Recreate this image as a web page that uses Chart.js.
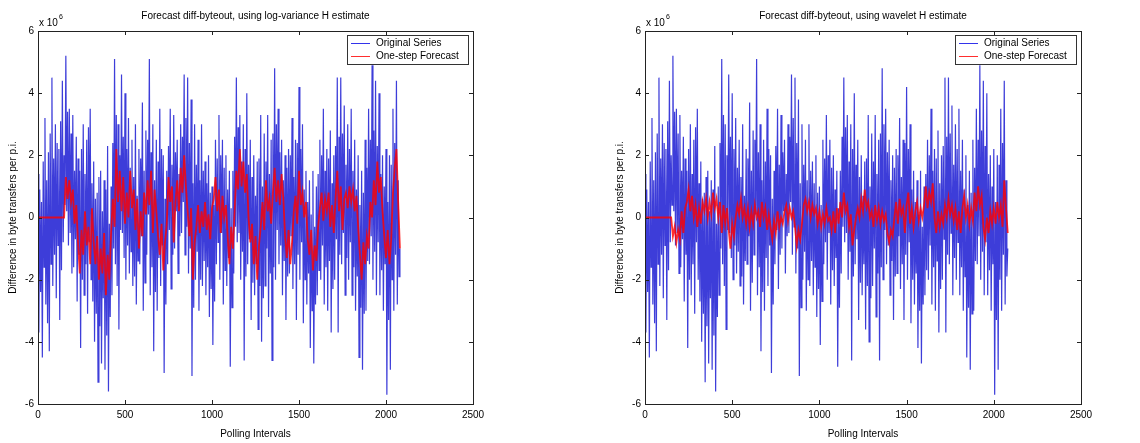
<!DOCTYPE html>
<html>
<head>
<meta charset="utf-8">
<script src="https://cdn.jsdelivr.net/npm/chart.js@4.4.1/dist/chart.umd.min.js"></script>
<style>
  html, body { margin: 0; padding: 0; background: #fff; }
  #wrap { position: relative; width: 1140px; height: 443px; }
  .pane { position: absolute; top: 0; width: 570px; height: 443px; }
  #p1 { left: 0; }
  #p2 { left: 570px; }
</style>
</head>
<body>
<div id="wrap">
  <div class="pane" id="p1"><canvas id="c1" width="570" height="443"></canvas></div>
  <div class="pane" id="p2"><canvas id="c2" width="570" height="443"></canvas></div>
</div>
<script>
// ---- data (values in units of 10^6) ----
const ORIGINAL_STEP = 5;    // polling intervals between original-series readings
const FORECAST_STEP = 10;   // polling intervals between forecast readings
const xTicks = [0, 500, 1000, 1500, 2000, 2500];
const yTicks = [-6, -4, -2, 0, 2, 4, 6];
const titles = ["Forecast diff-byteout, using log-variance H estimate",
                "Forecast diff-byteout, using wavelet H estimate"];
const seriesNames = ["Original Series", "One-step Forecast"];
const xTitle = "Polling Intervals";
const yTitle = "Difference in byte transfers per p.i.";

const originalSeries = [
  1.4, -3.7, 0.9, -2.4,   0.5, -4.5, 1.8, -1.6,   3.2, -2.8, 1.2, -3.4,   2.1, -4.3, 2.7, -1.5,
  4.5, -2.2, 1.9, -1.2,   3.0, -2.6, 2.4, -0.9,   2.2, -3.3, 3.1, -1.7,   4.4, -0.8, 2.0, 0.4,
  5.2, 0.2, 3.4, -0.9,    3.5, -0.5, 2.7, -1.8,   3.3, -1.6, 1.5, -0.7,   2.6, -2.7, 1.9, -1.2,
  1.5, -4.2, 2.2, -2.0,   3.0, -2.5, 1.4, -1.5,   2.5, -3.1, 2.9, -0.8,   3.5, -2.0, 1.1, -2.7,
  1.8, -4.0, 0.6, -3.1,   0.8, -5.3, 1.3, -3.5,   1.5, -4.7, 0.2, -2.6,   1.2, -4.9, 0.9, -3.8,
  2.3, -5.6, -0.2, -3.2,  1.0, -2.5, 2.4, -1.0,   5.1, -1.5, 3.3, -2.2,   3.0, -3.6, 2.0, -0.4,
  4.6, -0.5, 2.6, -1.3,   4.0, -2.0, 2.2, -0.9,   3.2, -1.8, 1.6, -1.1,   2.5, -2.2, 1.3, -1.9,
  3.0, -2.8, 0.7, -1.4,   2.2, -1.5, 1.9, -0.6,   3.7, -3.0, 1.5, -2.1,   2.8, -1.2, 2.5, 0.1,
  5.1, -2.5, 2.1, -1.6,   3.0, -4.3, 1.2, -2.4,   2.5, -3.0, 1.8, -1.3,   3.5, -2.2, 2.2, -0.9,
  2.0, -5.0, 0.6, -2.8,   1.5, -1.5, 2.3, -0.4,   3.5, -2.3, 1.7, -1.2,   3.3, -1.0, 2.1, 0.2,
  2.5, -1.8, 1.4, -0.6,   3.0, -0.5, 2.6, 0.5,    4.6, -1.2, 3.2, -0.3,   4.5, -1.8, 2.4, -1.0,
  3.8, -5.1, 1.1, -2.9,   3.0, -2.0, 1.7, -1.1,   2.5, -3.0, 1.2, -2.0,   3.0, -2.2, 1.5, -1.4,
  1.8, -2.5, 1.1, -1.6,   2.0, -3.2, 0.8, -2.3,   1.0, -4.1, 0.4, -2.7,   2.5, -1.5, 1.9, -0.8,
  3.3, -2.0, 2.0, -0.5,   2.5, -2.8, 1.6, -1.7,   2.0, -2.2, 0.9, -1.3,   1.5, -4.8, 0.3, -2.9,
  1.5, -1.8, 2.6, -0.3,   4.5, -0.8, 2.9, -0.5,   3.3, -2.0, 1.8, -1.1,   3.0, -4.6, 2.2, -1.9,
  4.0, -1.5, 1.7, -0.7,   2.5, -3.3, 1.3, -2.1,   2.0, -2.5, 0.7, -1.5,   1.8, -3.6, 1.9, -2.2,
  3.3, -4.0, 1.0, -2.6,   2.7, -2.2, 1.8, -1.0,   3.3, -3.2, 1.4, -1.8,   2.5, -4.6, 2.7, -1.6,
  4.8, -2.0, 3.0, -0.4,   3.5, -1.5, 2.1, -0.9,   2.5, -2.5, 1.2, -1.4,   2.0, -3.3, 1.6, -1.9,
  2.2, -1.8, 2.0, -0.6,   3.2, -2.3, 1.3, -1.5,   2.5, -3.3, 2.4, -1.2,   4.2, -2.0, 2.2, -0.8,
  3.0, -3.4, 0.9, -2.0,   1.5, -2.8, 0.5, -1.8,   1.2, -4.2, 0.1, -3.0,   1.5, -4.7, -0.3, -2.8,
  1.0, -2.5, 1.4, -1.7,   2.5, -2.0, 2.0, -0.9,   3.5, -2.8, 1.5, -1.6,   2.2, -3.0, 1.9, -1.4,
  2.8, -3.7, 1.1, -2.3,   2.0, -2.0, 2.3, -0.7,   4.5, -3.7, 2.6, -1.2,   4.5, -1.5, 2.7, -0.5,
  3.6, -2.5, 1.7, -1.3,   3.0, -2.0, 2.2, -0.8,   3.5, -2.5, 1.5, -1.6,   2.5, -3.0, 0.9, -1.9,
  2.0, -4.5, 0.4, -2.9,   1.5, -4.9, 0.8, -3.1,   2.5, -3.0, 1.6, -1.4,   3.5, -1.5, 2.5, -0.6,
  4.9, -2.0, 2.8, -1.1,   4.4, -2.5, 2.3, -0.8,   4.0, -2.5, 1.4, -1.7,   2.0, -3.0, 1.0, -1.5,
  2.2, -5.7, 0.5, -3.3,   2.0, -4.9, 1.7, -2.0,   3.5, -3.0, 2.4, -1.2,   4.4, -2.8, 1.2, -1.9,
  -1.0
];

const forecastLogVariance = [
  0, 0, 0, 0, 0, 0, 0, 0, 0, 0, 0, 0, 0, 0, 0, 0,
  1.3, 0.6, 1.2, 0.5, 0.9, -0.2, 0.4, -0.8,
  -1.8, -0.4, -1.2, 0.2, -0.9, -0.3, -1.5,
  0.3, -0.8, -1.5, -0.6, -2.0, -1.0, -1.8, -0.5, -2.5, -1.2, -2.0,
  -0.5, 0.6, -0.3, 2.2, 0.5, 1.5,
  0.2, 1.3, -0.2, 0.8, 0.0, 1.5, 0.3, 0.9,
  -0.4, 0.6, -1.0, 0.2, -0.6, 0.8, 0.1,
  1.2, 0.4, 1.5, -0.5, 0.9, 0.2,
  -0.6, -1.2, -0.2, -1.7, -0.8, -0.2,
  1.3, 0.5, 1.0, -0.8,
  0.5, 1.2, 0.2, 1.6, 0.8, 2.0, 1.0,
  0.2, -0.6, 0.3, -2.0, -0.8, -0.3,
  0.4, -0.5, 0.2, -0.3, 0.5, -0.4, 0.1, -0.7, 0.3,
  0.6, 1.3, 0.2, 0.9, -0.5, 0.7, 0.0, 0.4,
  -0.6, -1.5, -0.3, -1.0, 0.2,
  1.5, 0.9, 2.2, 1.0, 1.8, 0.8, 1.4,
  0.0, -0.8, -0.2, -1.5, -0.6, -2.0, -0.9,
  -0.3, 0.5, -0.4, 1.2, 0.2, 0.6, -0.2, 0.8,
  1.6, 0.5, 1.2, 0.4, 1.4, 0.6,
  -0.6, -1.3, -0.4, -1.5, -0.8,
  0.2, 0.7, -0.2, 1.5, 0.4, 0.8, 0.0, 0.5,
  -0.7, -1.2, -0.4, -1.7, -0.9, -1.4, -0.3,
  0.3, 0.8, -0.1, 0.6, 0.2, 0.8, -0.3, 0.4,
  -0.5, 0.6, 1.5, 0.2, 1.0, -0.4, 0.6,
  0.8, 0.3, 1.0, 0.5, 0.9, 0.2, 0.7, -0.3,
  -1.2, -2.0, -0.8, -1.5, -0.6, -1.0,
  0.5, 0.0, 1.2, 0.4, 1.8, 0.8, 1.3, 0.2,
  -0.6, -1.3, -0.4, -1.5, -0.7,
  0.8, 1.6, 2.2, 0.5, -1.0
];

const forecastWavelet = [
  0, 0, 0, 0, 0, 0, 0, 0, 0, 0, 0, 0, 0, 0, 0, 0,
  -0.6, -0.3, -0.8, -0.4, -0.7,
  0.2, -0.5, 0.3,
  0.5, 0.9, 0.2, 0.7, 0.0,
  0.4, -0.3, 0.3, -0.2, 0.5,
  0.2, 0.6, 0.0, 0.5, 0.1, 0.8, 0.3, 0.6,
  0.0, 0.5, -0.5, 0.4, -0.2, 0.3,
  -0.4, -1.0, -0.2, -0.6, 0.0,
  0.4, 0.1, 0.6, 0.0, 0.3, -0.2,
  0.3, -0.3, 0.2, -0.2, 0.4, 0.0,
  0.2, -0.3, 0.5, 0.0, 0.3, -0.4, 0.1,
  -0.3, -0.7, -0.1, -0.5, 0.2, -0.3, 0.0, -0.2,
  0.2, 0.4, -0.1, 0.3, 0.0, 0.2,
  -0.3, -0.9, -0.4, -0.7, -0.2,
  0.4, 0.6, 0.2, 0.5, 0.0, 0.4, 0.1, 0.3,
  -0.2, 0.2, -0.3, 0.1, -0.2, 0.3, -0.1, 0.0,
  -0.4, 0.2, -0.5, 0.3, -0.2, 0.5, 0.0,
  0.8, 0.2, 0.4, -0.3, 0.1, -0.9, -0.4, 0.0,
  0.3, 0.0, 0.6, 0.2, 0.9, 0.3, 0.5, 0.0,
  0.2, -0.3, 0.4, -0.1, 0.3, -0.2, 0.2, -0.1, 0.1,
  -0.5, -0.8, -0.4, -0.6,
  0.0, 0.5, -0.2, 0.6, 0.1, 0.3,
  -0.5, 0.4, 0.8, -0.2, 0.3,
  -0.3, 0.2, 0.5, -0.1, 0.3, 0.0,
  0.4, 1.0, 0.3, 0.8, 0.5, 1.1,
  0.0, -0.5, 0.2, -0.3, 0.1,
  -0.2, 0.4, 0.0, 0.6, 0.1, 0.4, -0.1, 0.3,
  -0.4, 0.2, -0.5, 0.3, 0.7, 0.0, 0.4, -0.2,
  0.3, -0.1, 0.8, 0.2, 1.0, 0.4, 0.7,
  -0.3, -0.7, 0.0, -0.5, 0.2, -0.2,
  0.3, -0.2, 0.5, 0.0, 0.4, -0.3,
  1.2, 0.3, -0.5
];

// ---- rendering ----
const FONT = '"Liberation Sans", Arial, Helvetica, sans-serif';
const FS = 10;
const BLUE = 'rgba(0, 0, 205, 0.76)';
const RED = 'rgba(255, 0, 0, 0.82)';

function toPoints(arr, step) { return arr.map((v, i) => ({ x: i * step, y: v })); }

const matlabFrame = {
  id: 'matlabFrame',
  afterDraw(chart, args, opts) {
    const { ctx, chartArea: a, scales } = chart;
    ctx.save();
    ctx.strokeStyle = '#222';
    ctx.lineWidth = 1;
    ctx.strokeRect(Math.round(a.left) + 0.5, Math.round(a.top) + 0.5,
                   Math.round(a.right - a.left), Math.round(a.bottom - a.top));
    const tl = 4;
    ctx.beginPath();
    scales.x.ticks.forEach(t => {
      const px = Math.round(scales.x.getPixelForValue(t.value)) + 0.5;
      ctx.moveTo(px, a.bottom); ctx.lineTo(px, a.bottom - tl);
      ctx.moveTo(px, a.top); ctx.lineTo(px, a.top + tl);
    });
    scales.y.ticks.forEach(t => {
      const py = Math.round(scales.y.getPixelForValue(t.value)) + 0.5;
      ctx.moveTo(a.left, py); ctx.lineTo(a.left + tl, py);
      ctx.moveTo(a.right, py); ctx.lineTo(a.right - tl, py);
    });
    ctx.stroke();

    // title
    ctx.fillStyle = '#000';
    ctx.font = FS + 'px ' + FONT;
    ctx.textAlign = 'center';
    ctx.textBaseline = 'middle';
    ctx.fillText(opts.title, (a.left + a.right) / 2, 16);

    // exponent label
    ctx.textAlign = 'left';
    ctx.fillText('x 10', a.left + 1, 23);
    const w = ctx.measureText('x 10').width;
    ctx.font = '7px ' + FONT;
    ctx.fillText('6', a.left + w + 2, 17);

    // legend box
    const bw = 121, bh = 29;
    const bx = a.right - 5 - bw, by = a.top + 4;
    ctx.fillStyle = '#fff';
    ctx.fillRect(bx, by, bw, bh);
    ctx.strokeStyle = '#333';
    ctx.strokeRect(Math.round(bx) + 0.5, Math.round(by) + 0.5, bw, bh);
    const rows = [[seriesNames[0], 'rgba(0,0,230,0.8)'], [seriesNames[1], RED]];
    ctx.font = FS + 'px ' + FONT;
    ctx.textBaseline = 'middle';
    rows.forEach((r, i) => {
      const yy = by + 8 + i * 13;
      ctx.strokeStyle = r[1];
      ctx.beginPath();
      ctx.moveTo(bx + 4, yy + 0.5); ctx.lineTo(bx + 23, yy + 0.5);
      ctx.stroke();
      ctx.fillStyle = '#000';
      ctx.fillText(r[0], bx + 29, yy);
    });
    ctx.restore();
  }
};

function makeChart(id, forecast, title, padLeft, padRight) {
  return new Chart(document.getElementById(id), {
    type: 'line',
    data: {
      datasets: [
        { label: seriesNames[1], data: toPoints(forecast, FORECAST_STEP), borderColor: RED,
          borderWidth: 1.8, pointRadius: 0, tension: 0, order: 0 },
        { label: seriesNames[0], data: toPoints(originalSeries, ORIGINAL_STEP), borderColor: BLUE,
          borderWidth: 1.2, pointRadius: 0, tension: 0, order: 1 }
      ]
    },
    options: {
      responsive: false,
      animation: false,
      events: [],
      layout: { padding: { left: padLeft, right: padRight, top: 31, bottom: 0 } },
      plugins: {
        legend: { display: false },
        tooltip: { enabled: false },
        title: { display: false },
        matlabFrame: { title: title }
      },
      scales: {
        x: {
          type: 'linear', min: 0, max: 2500,
          afterBuildTicks: s => { s.ticks = xTicks.map(v => ({ value: v })); },
          afterFit: s => { s.height = 39; },
          grid: { display: false, drawTicks: false },
          border: { display: false },
          ticks: { color: '#000', font: { family: FONT, size: FS }, padding: 5, maxRotation: 0,
                   callback: v => String(v) },
          title: { display: true, text: xTitle, color: '#000',
                   font: { family: FONT, size: FS }, padding: { top: 0, bottom: 3 } }
        },
        y: {
          type: 'linear', min: -6, max: 6,
          afterBuildTicks: s => { s.ticks = yTicks.map(v => ({ value: v })); },
          afterFit: s => { s.width = 38; },
          grid: { display: false, drawTicks: false },
          border: { display: false },
          ticks: { color: '#000', font: { family: FONT, size: FS }, padding: 4,
                   callback: v => String(v) },
          title: { display: true, text: yTitle, color: '#000',
                   font: { family: FONT, size: FS }, padding: { top: 7, bottom: 0 } }
        }
      }
    },
    plugins: [matlabFrame]
  });
}

makeChart('c1', forecastLogVariance, titles[0], 0, 97);
makeChart('c2', forecastWavelet, titles[1], 37, 59);
</script>
</body>
</html>
